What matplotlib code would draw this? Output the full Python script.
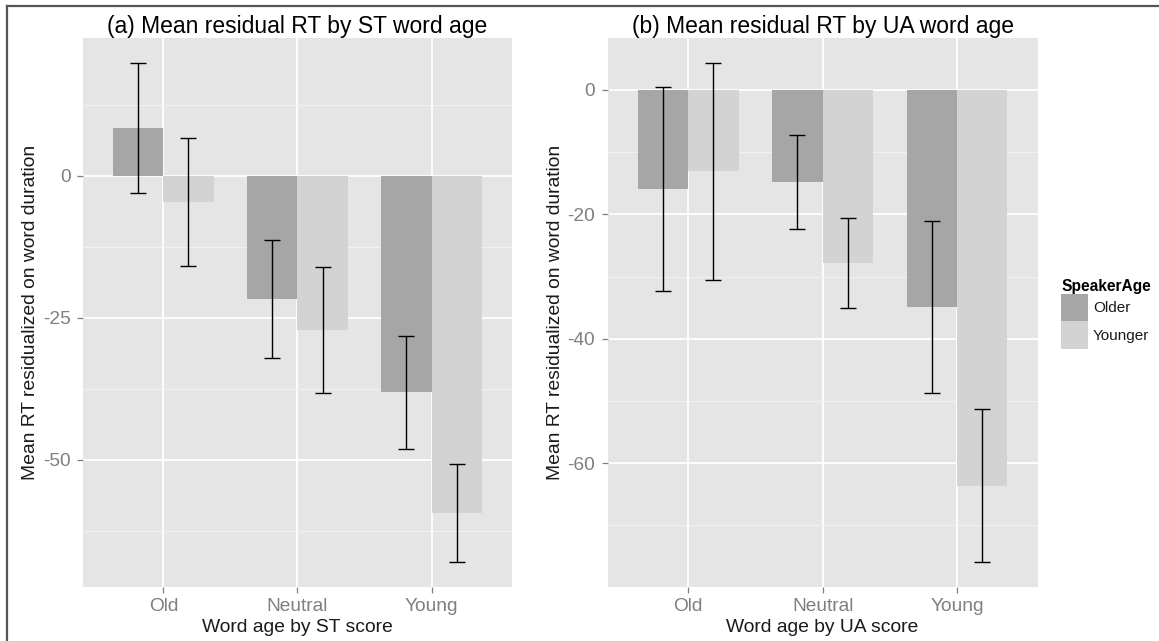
import matplotlib
matplotlib.use('Agg')
import matplotlib.pyplot as plt
from matplotlib.lines import Line2D
from matplotlib.patches import Patch
from matplotlib.ticker import FixedLocator, MultipleLocator
import numpy as np

plt.rcParams['font.family'] = ['Liberation Sans', 'DejaVu Sans']

# data
categories = ['Old', 'Neutral', 'Young']
groups = ['Older', 'Younger']

# (a) ST word age: means and half width of the error bars
st_older = [8.4, -21.7, -38.1]
st_older_err = [11.45, 10.45, 9.95]
st_younger = [-4.6, -27.1, -59.4]
st_younger_err = [11.3, 11.1, 8.6]
st_ticks = [0, -25, -50]

# (b) UA word age
ua_older = [-15.9, -14.8, -34.9]
ua_older_err = [16.35, 7.5, 13.85]
ua_younger = [-13.1, -27.8, -63.6]
ua_younger_err = [17.4, 7.25, 12.25]
ua_ticks = [0, -20, -40, -60]

fill_older = '#A6A6A6'
fill_younger = '#D3D3D3'
tick_grey = '#7F7F7F'

W, H = 1159, 641
fig = plt.figure(figsize=(W / 100, H / 100), dpi=100)


def draw_panel(ax, older, older_err, younger, younger_err, yticks, minor, title, xlabel):
    x = np.arange(len(categories))
    w = 0.375
    ax.set_facecolor('#E5E5E5')
    ax.bar(x - w / 2, older, w, color=fill_older, zorder=2)
    ax.bar(x + w / 2, younger, w, color=fill_younger, zorder=2)
    ax.errorbar(x - w / 2, older, yerr=older_err, fmt='none', ecolor='black',
                elinewidth=1.0, capsize=5.9, capthick=1.0, zorder=3)
    ax.errorbar(x + w / 2, younger, yerr=younger_err, fmt='none', ecolor='black',
                elinewidth=1.0, capsize=5.9, capthick=1.0, zorder=3)

    # ggplot style limits: data range plus 5 %
    lows = np.concatenate([np.subtract(older, older_err), np.subtract(younger, younger_err), [0]])
    highs = np.concatenate([np.add(older, older_err), np.add(younger, younger_err), [0]])
    lo, hi = lows.min(), highs.max()
    pad = 0.05 * (hi - lo)
    ax.set_ylim(lo - pad, hi + pad)
    ax.set_xlim(-0.6, len(categories) - 0.4)

    ax.yaxis.set_major_locator(FixedLocator(yticks))
    ax.yaxis.set_minor_locator(MultipleLocator(minor))
    ax.set_yticklabels([str(t) for t in yticks])
    ax.set_xticks(x)
    ax.set_xticklabels(categories)

    ax.set_axisbelow(True)
    ax.grid(which='major', color='white', linewidth=1.3, zorder=0)
    ax.yaxis.grid(True, which='minor', color='#F2F2F2', linewidth=0.7, zorder=0)
    for s in ax.spines.values():
        s.set_visible(False)
    ax.tick_params(which='major', length=4.2, width=0.9, color=tick_grey,
                   labelcolor=tick_grey, labelsize=13.8)
    ax.tick_params(axis='x', pad=4)
    ax.tick_params(axis='y', pad=4.8)
    ax.tick_params(which='minor', length=0)

    ax.set_title(title, fontsize=16.5, color='black', pad=3.6)
    pos = ax.get_position()
    xc = (pos.x0 + pos.x1) / 2
    fig.text(xc, (H - 631.7) / H, xlabel, ha='center', va='baseline',
             fontsize=13.9, color='#1A1A1A')
    fig.text(pos.x0 - 52 / W, (pos.y0 + pos.y1) / 2, 'Mean RT residualized on word duration',
             rotation=90, ha='center', va='center', fontsize=13.9, color='#1A1A1A')


ax_a = fig.add_axes([82.9 / W, (H - 586.7) / H, (512 - 82.9) / W, (586.7 - 38.3) / H])
ax_b = fig.add_axes([607.7 / W, (H - 586.7) / H, (1037.5 - 607.7) / W, (586.7 - 38.3) / H])

draw_panel(ax_a, st_older, st_older_err, st_younger, st_younger_err, st_ticks, 12.5,
           '(a) Mean residual RT by ST word age', 'Word age by ST score')
draw_panel(ax_b, ua_older, ua_older_err, ua_younger, ua_younger_err, ua_ticks, 10,
           '(b) Mean residual RT by UA word age', 'Word age by UA score')

handles = [Patch(facecolor=fill_older, edgecolor='none', label=groups[0]),
           Patch(facecolor=fill_younger, edgecolor='none', label=groups[1])]
leg = fig.legend(handles=handles, title='SpeakerAge', loc='upper left',
                 bbox_to_anchor=(1061 / W, (H - 279) / H), frameon=False,
                 fontsize=11, title_fontproperties={'weight': 'bold', 'size': 11.2},
                 alignment='left', handlelength=1.79, handleheight=2.39,
                 handletextpad=0.3, labelspacing=0, borderpad=0, borderaxespad=0)
for t in leg.get_texts():
    t.set_color('#1A1A1A')

# dark frame along the top and the left edge of the picture
fig.add_artist(Line2D([7.3 / W, 1.0], [(H - 5.7) / H] * 2, transform=fig.transFigure,
                      color='#555555', linewidth=1.6))
fig.add_artist(Line2D([7.3 / W] * 2, [0, (H - 5.7) / H], transform=fig.transFigure,
                      color='#555555', linewidth=1.6))

fig.savefig('out.png', dpi=100, facecolor='white')
